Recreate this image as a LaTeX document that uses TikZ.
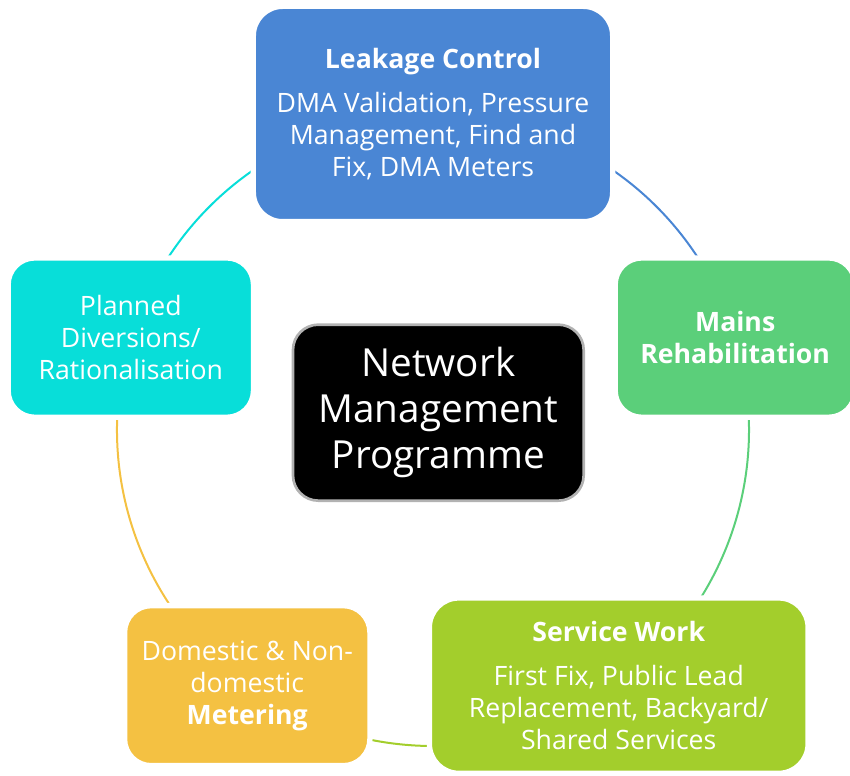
\documentclass[tikz,border=0pt]{standalone}
\usepackage{fontspec}
\setmainfont{Open Sans}
\usetikzlibrary{backgrounds}
\definecolor{leakblue}{HTML}{4A86D4}
\definecolor{mainsgreen}{HTML}{5BCF7A}
\definecolor{servicelime}{HTML}{A3CE2C}
\definecolor{meteryellow}{HTML}{F4C142}
\definecolor{plancyan}{HTML}{08DED9}

\begin{document}
\begin{tikzpicture}[
        box/.style={draw=white, line width=4pt, rounded corners=22pt, text=white,
                    align=center, font=\fontsize{20}{24}\selectfont},
        link/.style={line width=1.5pt}
      ]
      \useasboundingbox (-324.75pt,-258.75pt) rectangle (312.75pt,322.5pt);
      \coordinate (ctr) at (0,0);
      \node[box, fill=leakblue, minimum width=269.5pt, minimum height=161.5pt] (leak) at (90:237pt)
        {\textbf{Leakage Control}\\[9pt] DMA Validation, Pressure\\ Management, Find and\\ Fix, DMA Meters};
      \node[box, fill=mainsgreen, rounded corners=20pt, minimum width=180pt, minimum height=119.5pt] (mains) at (17:237pt)
        {\textbf{Mains}\\ \textbf{Rehabilitation}};
      \node[box, fill=servicelime, minimum width=284pt, minimum height=131.5pt] (service) at (-54:237pt)
        {\textbf{Service Work}\\[9pt] First Fix, Public Lead\\ Replacement, Backyard/\\ Shared Services};
      \node[box, fill=meteryellow, rounded corners=20pt, minimum width=184pt, minimum height=120pt] (meter) at (-126:237pt)
        {Domestic \& Non-\\ domestic\\ \textbf{Metering}};
      \node[box, fill=plancyan, rounded corners=20pt, minimum width=184pt, minimum height=119.5pt] (planned) at (163:237pt)
        {Planned\\ Diversions/\\ Rationalisation};
      \node[draw=gray!60, line width=2pt, fill=black, rounded corners=19pt, minimum width=218pt,
            minimum height=132pt, text=white, align=center, font=\fontsize{29}{34.5}\selectfont]
            (nmp) at (4pt,13pt) {Network\\ Management\\ Programme};
      \begin{scope}[on background layer]
        \draw[link, leakblue] (leak.center) arc[start angle=90, end angle=17, radius=237pt];
        \draw[link, mainsgreen] (mains.center) arc[start angle=17, end angle=-54, radius=237pt];
        \draw[link, servicelime] (service.center) arc[start angle=-54, end angle=-126, radius=237pt];
        \draw[link, meteryellow] (meter.center) arc[start angle=-126, end angle=-197, radius=237pt];
        \draw[link, plancyan] (planned.center) arc[start angle=163, end angle=90, radius=237pt];
      \end{scope}
    \end{tikzpicture}
\end{document}
